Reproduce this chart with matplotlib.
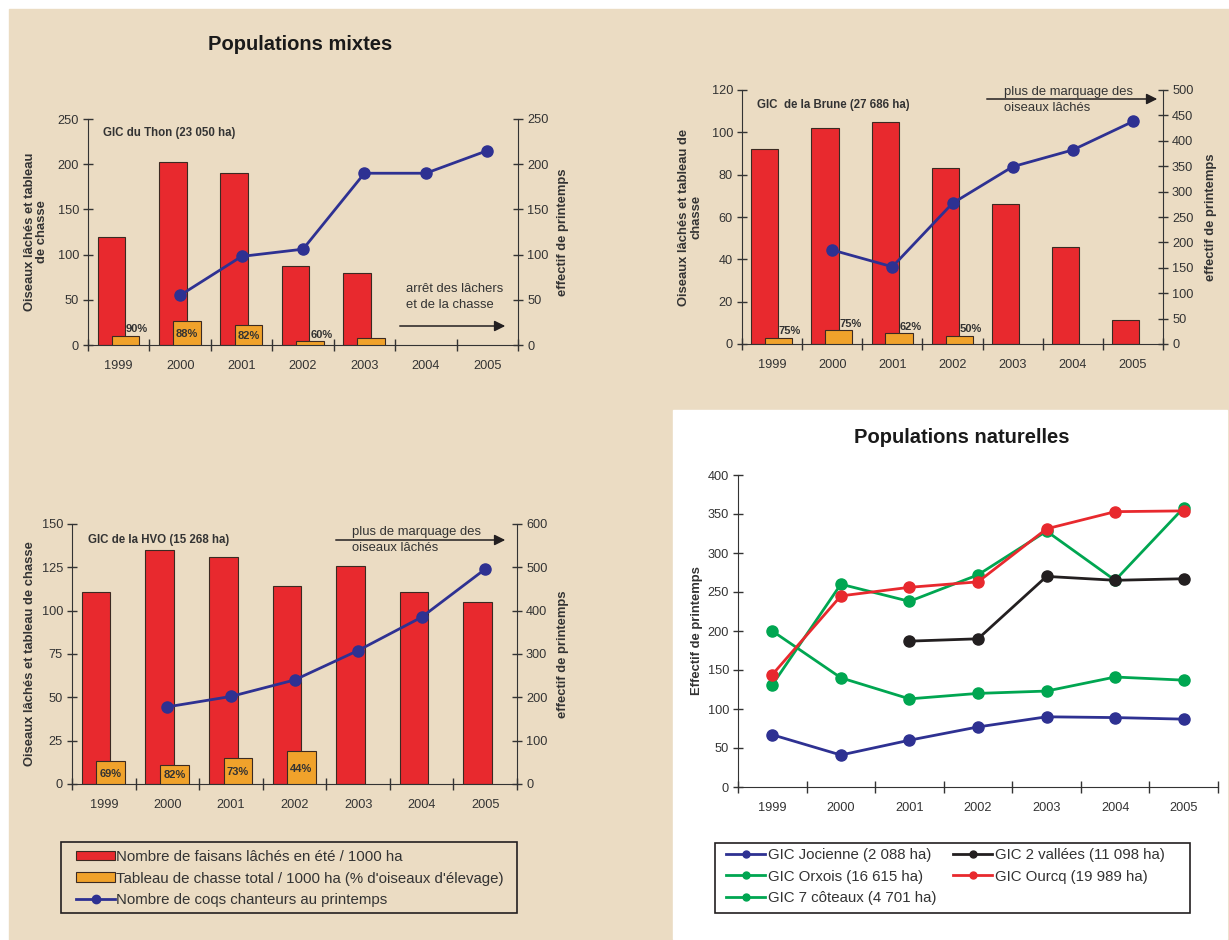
import matplotlib
matplotlib.use("Agg")

import numpy as np
import matplotlib.pyplot as plt
from matplotlib.patches import Patch, Rectangle, FancyArrowPatch
from matplotlib.lines import Line2D

plt.rcParams['font.family'] = ['Liberation Sans', 'DejaVu Sans']

W, H = 1229, 940

BEIGE = "#EBDCC3"
RED = "#E8292E"
ORANGE = "#F0A22B"
BLUE = "#2E3192"
GREEN = "#00A651"
BLACK = "#231F20"
EDGE = "#3B2A22"
TXT = "#333333"

years = ["1999", "2000", "2001", "2002", "2003", "2004", "2005"]
nan = np.nan

# GIC du Thon
thon_laches = [119, 202, 190, 87, 80, 0, 0]
thon_tableau = [10, 26, 22, 4, 8, 0, 0]
thon_pct = ["90%", "88%", "82%", "60%", "", "", ""]
thon_coqs = [nan, 55, 98, 106, 190, 190, 215]

# GIC de la Brune
brune_laches = [92, 102, 105, 83, 66, 46, 11.5]
brune_tableau = [3, 6.5, 5, 4, 0, 0, 0]
brune_pct = ["75%", "75%", "62%", "50%", "", "", ""]
brune_coqs = [nan, 185, 152, 277, 349, 382, 438]

# GIC de la HVO
hvo_laches = [111, 135, 131, 114, 126, 111, 105]
hvo_tableau = [13, 11, 15, 19, 0, 0, 0]
hvo_pct = ["69%", "82%", "73%", "44%", "", "", ""]
hvo_coqs = [nan, 178, 202, 240, 308, 385, 496]

# Populations naturelles
jocienne = [67, 41, 60, 77, 90, 89, 87]
deux_vallees = [nan, nan, 187, 190, 270, 265, 267]
orxois = [131, 260, 238, 272, 328, 265, 358]
ourcq = [144, 245, 256, 263, 331, 353, 354]
sept_coteaux = [200, 140, 113, 120, 123, 141, 137]


def px_rect(x0, y0, x1, y1):
    return [x0 / W, 1 - y1 / H, (x1 - x0) / W, (y1 - y0) / H]


def fp(x, y):
    return (x / W, 1 - y / H)


fig = plt.figure(figsize=(W / 100, H / 100), dpi=100)
fig.patch.set_facecolor("white")
fig.add_artist(Rectangle(fp(9, 940), (W - 9) / W, (940 - 9) / H,
                         transform=fig.transFigure, color=BEIGE, zorder=0))
fig.add_artist(Rectangle(fp(673, 939), (1227 - 673) / W, (939 - 410) / H,
                         transform=fig.transFigure, color="white", zorder=0))


def box(x0, y0, x1, y1, face):
    fig.add_artist(Rectangle(fp(x0, y1), (x1 - x0) / W, (y1 - y0) / H,
                             transform=fig.transFigure, facecolor=face,
                             edgecolor=BLACK, lw=1.2, zorder=1))


def category_axis(ax):
    x = np.arange(len(years))
    ax.set_xlim(-0.5, len(years) - 0.5)
    ax.set_xticks(np.arange(-0.5, len(years), 1))
    ax.set_xticklabels([])
    ax.set_xticks(x, minor=True)
    ax.set_xticklabels(years, minor=True)
    ax.tick_params(axis="x", which="major", direction="inout", length=9,
                   width=1, color=TXT)
    ax.tick_params(axis="x", which="minor", length=0, pad=11,
                   labelsize=9.2, labelcolor=TXT)


def mixed_chart(rect, laches, tableau, pct, coqs, ymax, ystep, y2max, y2step,
                subtitle):
    x0, y0, x1, y1 = rect
    ax = fig.add_axes(px_rect(*rect))
    ax.set_facecolor("none")
    x = np.arange(len(years))
    keep = [i for i in x if laches[i] > 0]
    ax.bar(x[keep] - 0.12, np.array(laches)[keep], width=0.45, color=RED,
           edgecolor=EDGE, linewidth=0.8, zorder=2)
    keep = [i for i in x if tableau[i] > 0]
    ax.bar(x[keep] + 0.11, np.array(tableau)[keep], width=0.45, color=ORANGE,
           edgecolor=EDGE, linewidth=0.8, zorder=3)
    ax.set_ylim(0, ymax)
    ax.set_yticks(np.arange(0, ymax + 1, ystep))
    category_axis(ax)
    ax.tick_params(axis="y", direction="inout", length=7, width=1, color=TXT,
                   labelsize=9.2, labelcolor=TXT, pad=3)
    for s in ["top", "right"]:
        ax.spines[s].set_visible(False)
    ax.spines["left"].set_color(TXT)
    ax.spines["bottom"].set_color(TXT)

    # percentage labels on the hunting bars
    ppd = (y1 - y0) / ymax
    for i, lab in enumerate(pct):
        if not lab:
            continue
        v = tableau[i]
        if v * ppd > 16:
            ax.text(x[i] + 0.11, v * 0.45, lab, ha="center", va="center",
                    fontsize=8, fontweight="bold", color=TXT, zorder=4)
        else:
            ax.text(x[i] + 0.3, v + 1.5 / ppd, lab, ha="center", va="bottom",
                    fontsize=8, fontweight="bold", color=TXT, zorder=4)

    ax2 = ax.twinx()
    ax2.plot(x, coqs, color=BLUE, lw=2, marker="o", ms=8, zorder=5)
    ax2.set_ylim(0, y2max)
    ax2.set_yticks(np.arange(0, y2max + 1, y2step))
    ax2.tick_params(axis="y", direction="inout", length=7, width=1, color=TXT,
                    labelsize=9.2, labelcolor=TXT, pad=3)
    for s in ["top", "left"]:
        ax2.spines[s].set_visible(False)
    ax2.spines["right"].set_color(TXT)
    ax2.spines["bottom"].set_visible(False)

    ax.text(0.035, 0.94, subtitle, transform=ax.transAxes, ha="left",
            va="center", fontsize=8.3, fontweight="bold", color=TXT)
    return ax, ax2


def arrow_note(xa, xb, ya, xt, yt, text):
    fig.add_artist(FancyArrowPatch(
        fp(xa, ya), fp(xb, ya), transform=fig.transFigure,
        arrowstyle="-|>", mutation_scale=16, color=BLACK, lw=1.1))
    fig.text(*fp(xt, yt), text, ha="left", va="center", fontsize=9.4,
             color=TXT, linespacing=1.5)


def ylabel(x, y, text):
    fig.text(*fp(x, y), text, rotation=90, ha="center", va="center",
             fontsize=9.4, fontweight="bold", color=TXT, linespacing=1.1)


# Populations mixtes
fig.text(*fp(300, 44), "Populations mixtes", ha="center", va="center",
         fontsize=14.5, fontweight="bold", color="#1a1a1a")

mixed_chart((88, 119, 518, 345), thon_laches, thon_tableau, thon_pct,
            thon_coqs, 250, 50, 250, 50, "GIC du Thon (23 050 ha)")
ylabel(36, 232, "Oiseaux lâchés et tableau\nde chasse")
ylabel(563, 232, "effectif de printemps")
arrow_note(397, 508, 326, 406, 297, "arrêt des lâchers\net de la chasse")

mixed_chart((742, 90, 1163, 344), brune_laches, brune_tableau, brune_pct,
            brune_coqs, 120, 20, 500, 50, "GIC  de la Brune (27 686 ha)")
ylabel(690, 217, "Oiseaux lâchés et tableau de\nchasse")
ylabel(1211, 217, "effectif de printemps")
arrow_note(984, 1160, 99, 1004, 100, "plus de marquage des\noiseaux lâchés")

mixed_chart((72, 524, 517, 784), hvo_laches, hvo_tableau, hvo_pct,
            hvo_coqs, 150, 25, 600, 100, "GIC de la HVO (15 268 ha)")
ylabel(30, 654, "Oiseaux lâchés et tableau de chasse")
ylabel(563, 654, "effectif de printemps")
arrow_note(333, 508, 540, 352, 540, "plus de marquage des\noiseaux lâchés")

h_mixed = [
    Patch(facecolor=RED, edgecolor=EDGE, linewidth=0.8),
    Patch(facecolor=ORANGE, edgecolor=EDGE, linewidth=0.8),
    Line2D([], [], color=BLUE, lw=2, marker="o", ms=6),
]
l_mixed = [
    "Nombre de faisans lâchés en été / 1000 ha",
    "Tableau de chasse total / 1000 ha (% d'oiseaux d'élevage)",
    "Nombre de coqs chanteurs au printemps",
]
box(61, 842, 517, 913, BEIGE)
leg1 = fig.legend(h_mixed, l_mixed, loc="upper left",
                  bbox_to_anchor=fp(76, 850), fontsize=10.8, frameon=False,
                  handlelength=2.6, handleheight=0.6, handletextpad=0.1,
                  labelspacing=0.5, borderpad=0.0, borderaxespad=0)
leg1.set_zorder(2)
for t in leg1.get_texts():
    t.set_color(TXT)

# Populations naturelles
fig.text(*fp(962, 438), "Populations naturelles", ha="center", va="center",
         fontsize=14.5, fontweight="bold", color="#1a1a1a")
ax4 = fig.add_axes(px_rect(738, 475, 1218, 787))
ax4.set_facecolor("none")
x = np.arange(len(years))
nat = [
    (jocienne, BLUE, "GIC Jocienne (2 088 ha)"),
    (orxois, GREEN, "GIC Orxois (16 615 ha)"),
    (sept_coteaux, GREEN, "GIC 7 côteaux (4 701 ha)"),
    (deux_vallees, BLACK, "GIC 2 vallées (11 098 ha)"),
    (ourcq, RED, "GIC Ourcq (19 989 ha)"),
]
handles = []
for vals, col, lab in nat:
    ax4.plot(x, vals, color=col, lw=2, marker="o", ms=8)
    handles.append(Line2D([], [], color=col, lw=2, marker="o", ms=5))
ax4.set_ylim(0, 400)
ax4.set_yticks(np.arange(0, 401, 50))
category_axis(ax4)
ax4.tick_params(axis="y", direction="inout", length=7, width=1, color=TXT,
                labelsize=9.2, labelcolor=TXT, pad=3)
for s in ["top", "right"]:
    ax4.spines[s].set_visible(False)
ax4.spines["left"].set_color(TXT)
ax4.spines["bottom"].set_color(TXT)
ylabel(697, 631, "Effectif de printemps")

box(715, 843, 1190, 913, "white")
leg2 = fig.legend(handles, [n[2] for n in nat], ncol=2, loc="upper left",
                  bbox_to_anchor=fp(726, 848), fontsize=10.8, frameon=False,
                  handlelength=2.6, handletextpad=0.2, labelspacing=0.5,
                  borderpad=0.0, borderaxespad=0, columnspacing=1.1)
leg2.set_zorder(2)
for t in leg2.get_texts():
    t.set_color(TXT)

fig.savefig("out.png", dpi=100)
